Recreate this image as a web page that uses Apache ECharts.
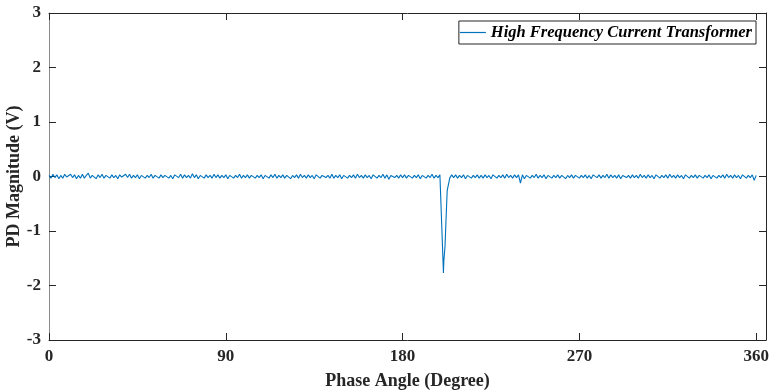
<!DOCTYPE html>
<html><head><meta charset="utf-8">
<script src="https://cdn.jsdelivr.net/npm/echarts@6/dist/echarts.min.js"></script>
<style>html,body{margin:0;padding:0;background:#fff}#c{width:772px;height:390px}</style>
</head><body><div id="c"></div>
<script>
// PD magnitude (V) sampled at each degree 0..360
var magnitude = [
0.02,-0.03,0.04,-0.02,0.03,-0.04,0.02,-0.03,0.04,-0.01,-0.03,0.04,-0.02,0.03,-0.04,0.02,-0.03,0.04,-0.03,0.02,
0.06,-0.03,0.02,0.04,-0.04,0.03,-0.02,0.04,-0.03,0.02,0.04,-0.03,0.03,-0.02,0.02,-0.04,0.03,-0.01,-0.03,0.04,
-0.02,0.04,-0.03,0.02,-0.02,0.03,-0.04,0.02,0.03,-0.03,0.02,-0.02,0.04,-0.03,0.02,-0.01,-0.03,0.03,-0.02,0.02,
0.03,-0.03,0.02,-0.04,0.03,0.02,-0.02,0.04,-0.03,0.03,-0.02,0.02,-0.03,0.05,-0.02,0.03,-0.04,0.02,-0.01,-0.03,
0.03,-0.02,0.02,-0.03,0.04,-0.02,0.03,-0.03,0.02,-0.02,0.03,-0.04,0.02,0.03,-0.03,0.02,-0.02,0.04,-0.03,0.02,
-0.02,0.03,-0.03,0.02,0.04,-0.03,0.02,-0.02,0.03,-0.04,0.02,-0.01,-0.03,0.03,-0.02,0.04,-0.03,0.02,-0.02,0.03,
-0.03,0.02,0.03,-0.04,0.02,-0.02,0.03,-0.03,0.04,-0.02,0.02,-0.03,0.03,-0.02,0.02,-0.04,0.03,0.02,-0.03,0.02,
0.03,-0.02,0.02,-0.03,0.04,-0.03,0.02,-0.02,0.03,-0.04,0.02,0.03,-0.03,0.02,-0.02,0.03,-0.03,0.04,-0.02,0.02,
-0.03,0.03,-0.02,0.02,-0.04,0.03,0.02,-0.03,0.02,-0.02,0.04,-0.03,0.03,-0.05,0.02,0.03,-0.02,0.02,-0.03,0.03,
-0.02,0.03,-0.03,0.02,0.04,-0.03,0.02,-0.02,0.03,-0.04,0.02,0.03,-0.03,0.02,-0.02,0.04,-0.03,0.02,-0.02,0.03,
0.00,-1.55,-0.90,-0.25,-0.03,0.03,-0.02,0.03,-0.03,0.02,-0.02,0.03,-0.04,0.02,0.03,-0.03,0.02,-0.02,0.03,-0.03,
0.02,-0.03,0.03,-0.02,0.02,-0.04,0.03,0.02,-0.03,0.02,-0.02,0.03,-0.03,0.04,-0.02,0.02,-0.03,0.03,-0.02,0.03,
-0.12,0.03,-0.04,0.02,0.03,-0.03,0.02,-0.02,0.04,-0.03,0.02,-0.02,0.03,-0.04,0.02,0.03,-0.03,0.02,-0.02,0.03,
-0.03,0.02,0.03,-0.04,0.02,-0.02,0.03,-0.03,0.02,0.04,-0.03,0.02,-0.02,0.03,-0.03,0.02,-0.04,0.03,0.02,-0.02,
0.03,-0.03,0.02,-0.02,0.04,-0.03,0.03,-0.02,0.02,-0.03,0.03,-0.04,0.02,0.03,-0.02,0.02,-0.03,0.03,-0.02,0.02,
-0.03,0.04,-0.02,0.02,-0.03,0.03,-0.02,0.02,-0.04,0.03,0.02,-0.03,0.02,-0.02,0.03,-0.03,0.04,-0.02,0.02,-0.03,
0.03,-0.02,0.02,-0.04,0.03,0.02,-0.03,0.02,-0.02,0.03,-0.03,0.02,0.04,-0.03,0.02,-0.02,0.03,-0.04,0.02,0.03,
-0.03,0.02,-0.02,0.03,-0.03,0.04,-0.02,0.02,-0.03,0.03,-0.02,0.02,-0.04,0.03,0.02,-0.03,0.02,-0.02,0.03,-0.07,0.02
];
// extra samples around the discharge pulse
var spikePhase = [200.3, 200.8, 201.6, 202.7];
var spikeMag   = [0.00, -1.77, -1.28, -0.26];
var xTicks = [0, 90, 180, 270, 360];
var yTicks = [-3, -2, -1, 0, 1, 2, 3];
var seriesName = 'High Frequency Current Transformer';

var data = magnitude.map(function (v, i) { return [i, v]; });
spikePhase.forEach(function (p, k) { data.push([p, spikeMag[k]]); });
data.sort(function (a, b) { return a[0] - b[0]; });

var font = 'Liberation Serif';
var axisCol = '#262626';
var chart = echarts.init(document.getElementById('c'), null, {renderer: 'canvas'});
chart.setOption({
  animation: false,
  backgroundColor: '#fff',
  grid: {left: 49, right: 6, top: 13, bottom: 50, containLabel: false, outerBoundsMode: 'none'},
  legend: {
    show: true, right: 16, top: 21, orient: 'horizontal',
    data: [{name: seriesName, icon: 'rect'}],
    itemWidth: 26, itemHeight: 1.2, itemGap: 3,
    padding: [3, 4, 3, 1],
    borderColor: axisCol, borderWidth: 1, backgroundColor: '#fff',
    itemStyle: {color: '#0072BD'},
    textStyle: {fontFamily: font, fontSize: 16.5, fontWeight: 'bold', fontStyle: 'italic', color: '#000'}
  },
  xAxis: [{
    type: 'value', min: 0, max: 365, interval: 90,
    name: 'Phase Angle (Degree)', nameLocation: 'middle', nameGap: 32, nameMoveOverlap: false,
    nameTextStyle: {fontFamily: font, fontSize: 18, fontWeight: 'bold', color: '#262626'},
    axisLine: {show: true, onZero: false, lineStyle: {color: axisCol, width: 1}},
    axisTick: {show: true, inside: true, length: 7, lineStyle: {color: axisCol}},
    axisLabel: {margin: 8, fontFamily: font, fontSize: 17, fontWeight: 'bold', color: '#262626',
      showMaxLabel: false,
      formatter: function (v) { return xTicks.indexOf(v) >= 0 ? String(v) : ''; }},
    splitLine: {show: false}
  }, {
    type: 'value', min: 0, max: 365, interval: 90, position: 'top',
    axisLine: {show: true, onZero: false, lineStyle: {color: axisCol, width: 1}},
    axisTick: {show: true, inside: true, length: 7, lineStyle: {color: axisCol}},
    axisLabel: {show: false}, splitLine: {show: false}
  }],
  yAxis: [{
    type: 'value', min: -3, max: 3, interval: 1,
    name: 'PD Magnitude (V)', nameLocation: 'middle', nameGap: 26, nameRotate: 90, nameMoveOverlap: false,
    nameTextStyle: {fontFamily: font, fontSize: 18, fontWeight: 'bold', color: '#262626'},
    axisLine: {show: true, onZero: false, lineStyle: {color: '#8a8a8a', width: 1}},
    axisTick: {show: true, inside: true, length: 7, lineStyle: {color: axisCol}},
    axisLabel: {margin: 8, fontFamily: font, fontSize: 17, fontWeight: 'bold', color: '#262626',
      formatter: function (v) { return yTicks.indexOf(v) >= 0 ? String(v) : ''; }},
    splitLine: {show: false}
  }, {
    type: 'value', min: -3, max: 3, interval: 1, position: 'right',
    axisLine: {show: true, onZero: false, lineStyle: {color: axisCol, width: 1}},
    axisTick: {show: true, inside: true, length: 7, lineStyle: {color: axisCol}},
    axisLabel: {show: false}, splitLine: {show: false}
  }],
  series: [{
    name: seriesName, type: 'line', data: data,
    xAxisIndex: 0, yAxisIndex: 0,
    showSymbol: false, symbol: 'none',
    lineStyle: {color: '#0072BD', width: 1.1},
    itemStyle: {color: '#0072BD'}
  }]
});
</script></body></html>
